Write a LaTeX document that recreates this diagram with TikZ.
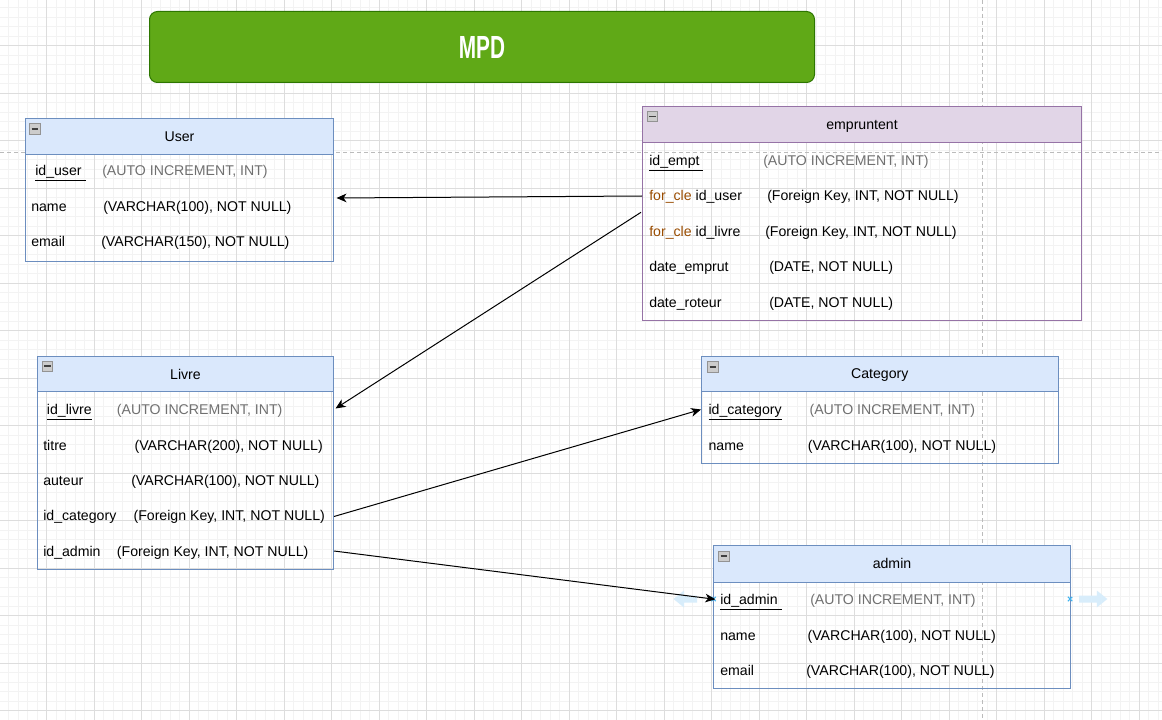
\documentclass[tikz,border=0pt]{standalone}
\usepackage{fontspec}
\setmainfont{Liberation Sans}
\usetikzlibrary{arrows.meta,calc}
\definecolor{hdrfill}{HTML}{DAE8FC}
\definecolor{hdrdraw}{HTML}{6C8EBF}
\definecolor{purfill}{HTML}{E1D5E7}
\definecolor{purdraw}{HTML}{9673A6}
\definecolor{mpdfill}{HTML}{60A917}
\definecolor{mpddraw}{HTML}{2D7600}
\definecolor{gridmaj}{HTML}{DDDDDD}
\definecolor{gridmin}{HTML}{F3F3F3}
\definecolor{pagebrk}{HTML}{BBBBBB}
\definecolor{keygray}{HTML}{707070}
\definecolor{fkbrown}{HTML}{994C00}
\definecolor{uiblue}{HTML}{D8EDFB}
\definecolor{uixblue}{HTML}{3FB4F0}
\def\pxu{0.75pt}
\begin{document}
\begin{tikzpicture}[x=0.75pt,y=-0.75pt,
  every node/.style={font=\fontsize{10.6pt}{12pt}\selectfont},
  tbody/.style={draw=#1, line width=0.75pt, anchor=north west, inner sep=0pt, fill=none},
  thead/.style={draw=#1, line width=0.75pt, anchor=north west, inner sep=0pt, text height=7.5pt, text depth=0pt},
  bluehead/.style={thead=hdrdraw, fill=hdrfill},
  purplehead/.style={thead=purdraw, fill=purfill},
  minusbox/.style={draw=gray!85, fill=gray!40, minimum size=10.5*\pxu, inner sep=0pt,
    path picture={\draw[black!75, line width=1.4pt] ([xshift=1.6pt]path picture bounding box.west) -- ([xshift=-1.6pt]path picture bounding box.east);}},
  fld/.style={anchor=base west, inner sep=0pt, text=black},
  keyinfo/.style={fld, text=keygray},
  rel/.style={draw=black, line width=0.75pt, -{Stealth[length=7.5pt, width=6.5pt, inset=2.2pt]}},
  gridminor/.style={draw=gridmin, line width=0.75pt},
  gridmajor/.style={draw=gridmaj, line width=0.75pt},
  pagebreak/.style={draw=pagebrk, line width=0.75pt, dash pattern=on 3pt off 2.25pt},
  uiarrow/.style={fill=uiblue, draw=none},
  uix/.style={draw=uixblue, line width=0.8pt}
]
% canvas
\fill[white] (0,0) rectangle (1162,720);
\useasboundingbox (0,0) rectangle (1162,720);
% grid
\foreach \i in {0,...,123} {
  \draw[gridminor] ({-0.5+9.496*\i},0) -- ({-0.5+9.496*\i},720);
}
\foreach \j in {0,...,76} {
  \draw[gridminor] (0,{-1.8+9.5*\j}) -- (1162,{-1.8+9.5*\j});
}
\foreach \i in {0,...,25} {
  \draw[gridmajor] ({-0.5+47.48*\i},0) -- ({-0.5+47.48*\i},720);
}
\foreach \j in {0,...,16} {
  \draw[gridmajor] (0,{-1.8+47.5*\j}) -- (1162,{-1.8+47.5*\j});
}
% page break lines
\draw[pagebreak] (0,152.3) -- (1162,152.3);
\draw[pagebreak] (982.3,0) -- (982.3,720);

% title banner
\node[draw=mpddraw, fill=mpdfill, line width=0.75pt, rounded corners=6pt, anchor=north west,
  minimum width=665*\pxu, minimum height=71*\pxu, inner sep=0pt] (mpd) at (149,11) {};
\node[text=white, font=\fontsize{20pt}{22pt}\selectfont\bfseries] (mpdtxt) at (mpd.center) {\scalebox{0.78}[1.2]{MPD}};

% ===== User =====
\node[tbody=hdrdraw, minimum width=308*\pxu, minimum height=143*\pxu] (user) at (25,118) {};
\node[bluehead, minimum width=308*\pxu, minimum height=36*\pxu] (userh) at (25,118) {User};
\node[minusbox] (userm) at (34.7,129) {};
\node[fld] (u1) at (35,176) {\underline{id\_user\ }};
\node[keyinfo] (u1t) at (102,176) {(AUTO INCREMENT, INT)};
\node[fld] (u2) at (31,212) {name};
\node[fld] (u2t) at (103,212) {(VARCHAR(100), NOT NULL)};
\node[fld] (u3) at (31,247) {email};
\node[fld] (u3t) at (101,247) {(VARCHAR(150), NOT NULL)};

% ===== empruntent =====
\node[tbody=purdraw, minimum width=439*\pxu, minimum height=214*\pxu] (emp) at (642,106) {};
\node[purplehead, minimum width=439*\pxu, minimum height=36*\pxu] (emph) at (642,106) {empruntent};
\node[minusbox] (empm) at (652.5,116.5) {};
\node[fld] (e1) at (649,165.7) {\underline{id\_empt\ }};
\node[keyinfo] (e1t) at (763,165.7) {(AUTO INCREMENT, INT)};
\node[fld] (e2) at (649,200.7) {\textcolor{fkbrown}{for\_cle} id\_user};
\node[fld] (e2t) at (767,200.7) {(Foreign Key, INT, NOT NULL)};
\node[fld] (e3) at (649,236) {\textcolor{fkbrown}{for\_cle} id\_livre};
\node[fld] (e3t) at (765,236) {(Foreign Key, INT, NOT NULL)};
\node[fld] (e4) at (649,271) {date\_emprut};
\node[fld] (e4t) at (769,271) {(DATE, NOT NULL)};
\node[fld] (e5) at (649,307.3) {date\_roteur};
\node[fld] (e5t) at (769,307.3) {(DATE, NOT NULL)};

% ===== Livre =====
\node[tbody=hdrdraw, minimum width=296*\pxu, minimum height=213*\pxu] (livre) at (37,356) {};
\node[bluehead, minimum width=296*\pxu, minimum height=35*\pxu] (livreh) at (37,356) {Livre};
\node[minusbox] (livrem) at (47.5,366.3) {};
\node[fld] (l1) at (46.7,414.3) {\underline{id\_livre}};
\node[keyinfo] (l1t) at (116.7,414.3) {(AUTO INCREMENT, INT)};
\node[fld] (l2) at (43,450.7) {titre};
\node[fld] (l2t) at (134.3,450.7) {(VARCHAR(200), NOT NULL)};
\node[fld] (l3) at (43,485) {auteur};
\node[fld] (l3t) at (131,485) {(VARCHAR(100), NOT NULL)};
\node[fld] (l4) at (43,520.7) {id\_category};
\node[fld] (l4t) at (133.3,520.7) {(Foreign Key, INT, NOT NULL)};
\node[fld] (l5) at (43,556) {id\_admin};
\node[fld] (l5t) at (116.7,556) {(Foreign Key, INT, NOT NULL)};

% ===== Category =====
\node[tbody=hdrdraw, minimum width=356.5*\pxu, minimum height=107*\pxu] (cat) at (701,355.5) {};
\node[bluehead, minimum width=356.5*\pxu, minimum height=35.5*\pxu] (cath) at (701,355.5) {Category};
\node[minusbox] (catm) at (712.7,367) {};
\node[fld] (c1) at (708.3,414.3) {\underline{id\_category}};
\node[keyinfo] (c1t) at (809.3,414.3) {(AUTO INCREMENT, INT)};
\node[fld] (c2) at (708.3,450) {name};
\node[fld] (c2t) at (807.7,450) {(VARCHAR(100), NOT NULL)};

% ===== admin =====
\node[tbody=hdrdraw, minimum width=356.4*\pxu, minimum height=142.7*\pxu] (adm) at (713.3,545) {};
\node[bluehead, minimum width=356.4*\pxu, minimum height=36.7*\pxu] (admh) at (713.3,545) {admin};
\node[minusbox] (admm) at (723.7,556.3) {};
\node[fld] (a1) at (720,604.3) {\underline{id\_admin\ }};
\node[keyinfo] (a1t) at (810,604.3) {(AUTO INCREMENT, INT)};
\node[fld] (a2) at (720,640.7) {name};
\node[fld] (a2t) at (807.3,640.7) {(VARCHAR(100), NOT NULL)};
\node[fld] (a3) at (720,675) {email};
\node[fld] (a3t) at (806,675) {(VARCHAR(100), NOT NULL)};

% hover UI hints around admin id row
\fill[uiarrow] (673.5,599) -- (684,590.5) -- (684,595.5) -- (697,595.5) -- (697,602.5) -- (684,602.5) -- (684,607.5) -- cycle;
\fill[uiarrow] (1107.3,599) -- (1096.8,590.5) -- (1096.8,595.5) -- (1079,595.5) -- (1079,602.5) -- (1096.8,602.5) -- (1096.8,607.5) -- cycle;
\draw[uix] (711.3,596.8) -- (715.7,601.2) (711.3,601.2) -- (715.7,596.8);
\draw[uix] (1067.8,596.8) -- (1072.2,601.2) (1067.8,601.2) -- (1072.2,596.8);

% ===== connectors =====
\coordinate (empU) at ($(emp.north west)+(0,90)$);
\coordinate (userIn) at ($(user.north east)+(2.5,80)$);
\coordinate (empL) at ($(emp.north west)+(-1,106.3)$);
\coordinate (livreIn) at ($(livre.north east)+(1.5,52.5)$);
\coordinate (livreC) at ($(livre.north east)+(0,160.5)$);
\coordinate (catIn) at ($(cat.north west)+(0,54)$);
\coordinate (livreA) at ($(livre.north east)+(0,195)$);
\coordinate (admIn) at ($(adm.north west)+(2,54.3)$);
\draw[rel] (empU) -- (userIn);
\draw[rel] (empL) -- (livreIn);
\draw[rel] (livreC) -- (catIn);
\draw[rel] (livreA) -- (admIn);
\end{tikzpicture}
\end{document}
